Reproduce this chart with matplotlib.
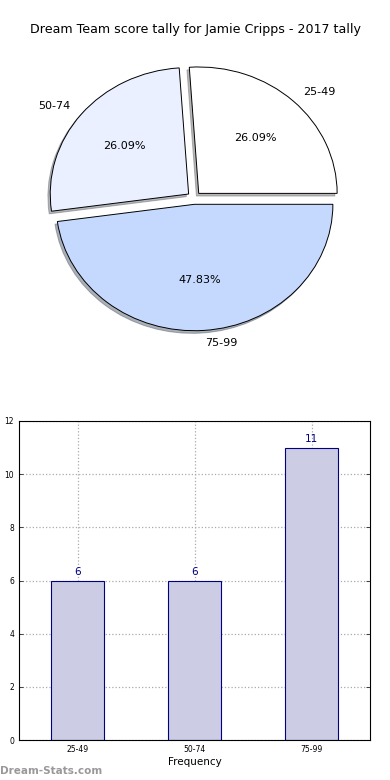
import matplotlib
matplotlib.use("Agg")
import matplotlib.pyplot as plt

title = "Dream Team score tally for Jamie Cripps - 2017 tally"
categories = ["25-49", "50-74", "75-99"]
counts = [6, 6, 11]
pie_colors = ["#ffffff", "#eaf0ff", "#c5d9ff"]

fig = plt.figure(figsize=(3.9, 7.8), dpi=100)
W, H = 390, 780

def axpos(l, t, r, b):
    return [l / W, 1 - b / H, (r - l) / W, (b - t) / H]

# Pie chart
ax1 = fig.add_axes(axpos(21, 40, 367, 356))
wedges, texts, autotexts = ax1.pie(
    counts, labels=categories, colors=pie_colors, autopct="%.2f%%",
    explode=[0.05, 0.05, 0.05],
    shadow=dict(ox=-0.012, oy=-0.015, shade=0.55),
    startangle=0,
    wedgeprops=dict(edgecolor="black", linewidth=0.7),
    textprops=dict(fontsize=8))
ax1.set_aspect("auto")
ax1.set_xlim(-1.25, 1.25)
ax1.set_ylim(-1.25, 1.25)
ax1.axis("off")
fig.text(0.5, 1 - 30 / H, title, ha="center", va="center", fontsize=9.1)

# Bar chart
ax2 = fig.add_axes(axpos(19, 421, 370, 740))
x = list(range(len(categories)))
bars = ax2.bar(x, counts, width=0.45, color="#ccccE5", edgecolor="navy", linewidth=0.8, zorder=2)
for xi, v in zip(x, counts):
    ax2.text(xi, v + 0.12, str(v), ha="center", va="bottom", color="navy", fontsize=7.5)
ax2.set_xlim(-0.5, 2.5)
ax2.set_ylim(0, 12)
ax2.set_xticks(x)
ax2.set_xticklabels(categories)
ax2.set_yticks(range(0, 13, 2))
ax2.tick_params(labelsize=5.5, direction="in", top=False, right=True, length=3, width=0.5)
ax2.grid(True, linestyle=":", color="#aaaaaa", linewidth=0.9, zorder=0)
ax2.set_axisbelow(True)
ax2.set_xlabel("Frequency", fontsize=7.5, labelpad=2)
ax2.set_ylabel("Score Tallies", fontsize=7.5)
ax2.yaxis.set_label_coords(-0.057, 0.5)
for s in ax2.spines.values():
    s.set_linewidth(0.8)

fig.text(0, 1 - 771 / H, "Dream-Stats.com", fontsize=7.5, color="#999999",
         fontweight="bold", ha="left", va="center")

fig.savefig("out.png", dpi=100)
